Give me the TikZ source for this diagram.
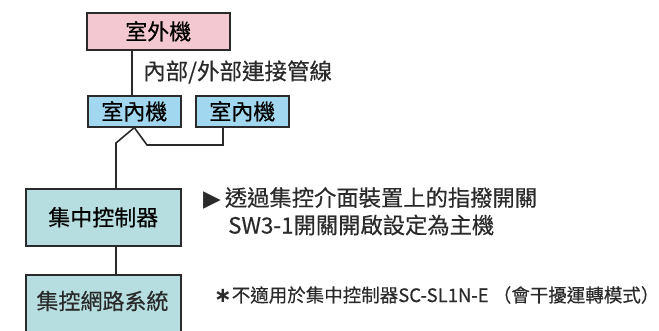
\documentclass[tikz,border=0pt]{standalone}
\usepackage{fontspec}
\setmainfont{Noto Sans CJK TC}[FakeBold=0.4]
\newfontfamily\symfont{DejaVu Sans}
\definecolor{pinkfill}{HTML}{F4C8D0}
\definecolor{bluefill}{HTML}{A2D8EF}
\definecolor{tealfill}{HTML}{B6DEE0}
\definecolor{ink}{HTML}{2A2A2A}
\begin{document}
\begin{tikzpicture}[x=1pt,y=-1pt,
  unit/.style={draw=ink,line width=1.6pt,inner sep=0pt,anchor=north west,font=\fontsize{22}{24}\selectfont},
  wire/.style={draw=ink,line width=1.6pt},
  note/.style={anchor=west,inner sep=0pt,font=\fontsize{22.3}{24}\selectfont,text=ink}]
\useasboundingbox (0,0) rectangle (659,331);
\clip (0,0) rectangle (659,331);
\node[unit,fill=pinkfill,minimum width=143pt,minimum height=37pt] (out) at (86,12) {室外機};
\node[unit,fill=bluefill,minimum width=93pt,minimum height=31pt] (in1) at (87,95) {室內機};
\node[unit,fill=bluefill,minimum width=93pt,minimum height=31pt] (in2) at (195,95) {室內機};
\node[unit,fill=tealfill,minimum width=155pt,minimum height=57pt] (cc) at (25,188) {集中控制器};
\node[unit,fill=tealfill,minimum width=155pt,minimum height=70pt] (net) at (25,274) {};
\node[font=\fontsize{22}{24}\selectfont,text=ink] (netlbl) at (102.5,301) {集控網路系統};
\node[note,font=\fontsize{22.5}{24}\selectfont] (pipe) at (143,72) {內部/外部連接管線};
\coordinate (j1) at (116,143);
\coordinate (j2) at (147,145);
\coordinate (j3) at (223,145);
\draw[wire] (out.south -| 132,0) -- (in1.north -| 132,0);
\draw[wire] (in1.south) -- (j1) -- (j1 |- cc.north);
\draw[wire] (in1.south) -- (j2) -- (j3) -- (j3 |- in2.south);
\draw[wire] (cc.south -| j1) -- (net.north -| j1);
\node[note] (tri) at (203,198) {{\symfont\fontsize{23}{18}\selectfont ▶}\hspace{4pt}透過集控介面裝置上的指撥開關};
\node[note] (sw) at (228,225) {SW3-1開關開啟設定為主機};
\node[note,font=\fontsize{18.5}{20}\selectfont] (foot) at (214,295) {{\symfont\bfseries\fontsize{21}{20}\selectfont ∗}不適用於集中控制器SC-SL1N-E （會干擾運轉模式）};
\end{tikzpicture}
\end{document}
